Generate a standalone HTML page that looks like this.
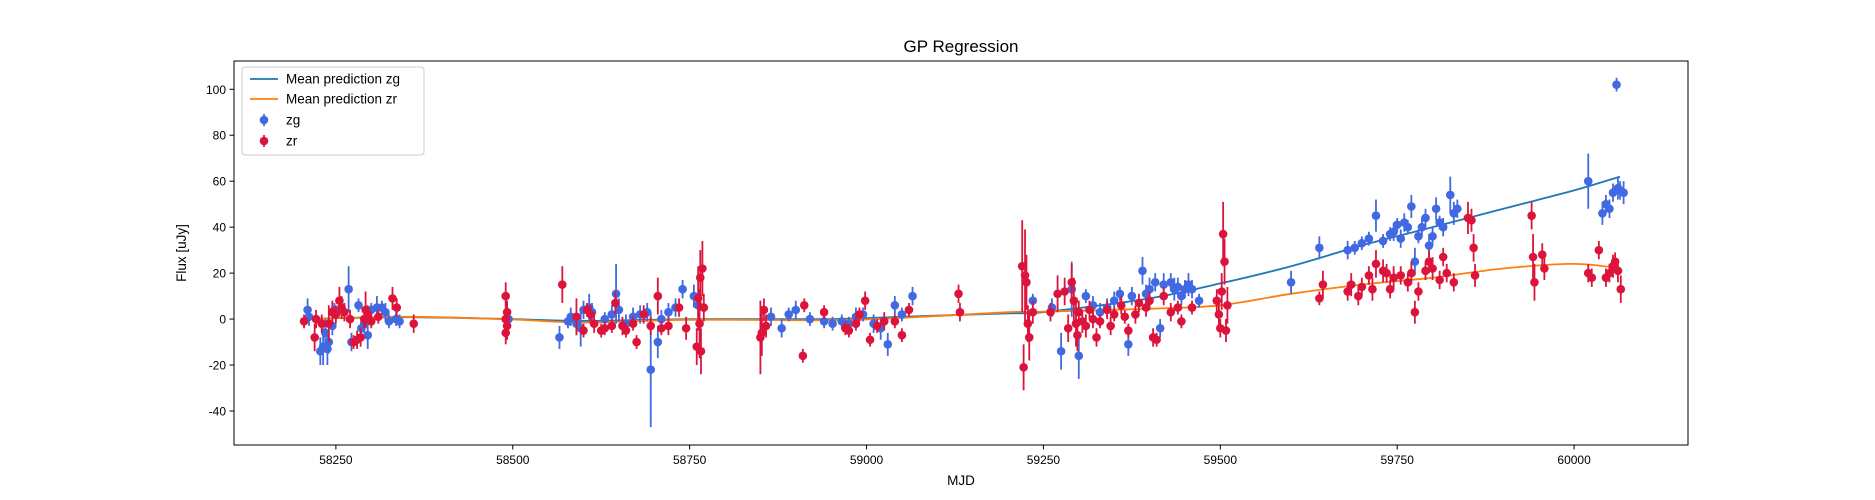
<!DOCTYPE html>
<html><head><meta charset="utf-8"><style>
body{margin:0;background:#fff;}
svg{display:block;font-family:"Liberation Sans","DejaVu Sans",sans-serif;}
</style></head><body>
<svg id="chart" width="1875" height="500" xmlns="http://www.w3.org/2000/svg">
<rect width="1875" height="500" fill="#fff"/>
<g id="plot"></g>
<text x="961" y="52" text-anchor="middle" font-size="17">GP Regression</text>
<text x="961" y="485" text-anchor="middle" font-size="13.5">MJD</text>
<text x="186" y="253" text-anchor="middle" font-size="13.5" transform="rotate(-90 186 253)">Flux [uJy]</text>
</svg>
<script>
const xTicks=[58250,58500,58750,59000,59250,59500,59750,60000];
const yTicks=[-40,-20,0,20,40,60,80,100];
const zgMjd=[58210,58212,58228,58232,58235,58240,58238,58245,58248,58268,58272,58282,58286,58290,58295,58300,58308,58315,58320,58325,58335,58340,58494,58566,58578,58582,58590,58596,58600,58608,58612,58630,58640,58646,58650,58660,58670,58680,58690,58695,58705,58710,58720,58730,58740,58756,58762,58865,58880,58890,58900,58920,58940,58952,58965,58975,58985,58995,59010,59020,59030,59040,59050,59065,59235,59262,59275,59290,59300,59310,59320,59330,59340,59350,59358,59370,59375,59390,59395,59400,59408,59415,59420,59430,59435,59440,59445,59450,59455,59460,59470,59600,59640,59680,59690,59700,59710,59720,59730,59740,59745,59750,59755,59760,59765,59770,59775,59780,59785,59790,59795,59800,59805,59810,59815,59825,59830,59835,60020,60040,60045,60050,60055,60060,60062,60065,60070];
const zgFlux=[4,1,-14,-12,-6,-10,-13,-3,4,13,-10,6,-4,-2,-7,4,5,5,3,-1,0,-1,0,-8,-1,1,-2,-4,4,5,3,0,2,11,4,-2,1,2,3,-22,-10,0,3,5,13,10,6,1,-4,2,4,0,-1,-2,-1,-2,1,2,-2,-4,-11,6,2,10,8,5,-14,13,-16,10,6,3,5,8,11,-11,10,21,11,13,16,-4,15,16,13,14,10,13,15,13,8,16,31,30,31,33,35,45,34,37,38,41,35,42,40,49,25,36,40,44,32,36,48,42,40,54,46,48,60,46,50,48,55,102,57,56,55];
const zgErr=[5,4,6,8,6,5,7,4,3,10,4,3,4,4,6,3,5,3,4,3,3,3,3,5,3,4,5,8,4,6,4,3,4,13,5,4,4,4,4,25,7,4,4,4,4,5,5,4,4,3,4,3,3,3,3,3,4,3,4,5,5,4,3,4,3,4,8,12,10,3,4,4,4,4,3,5,4,6,4,5,4,4,5,4,5,4,4,4,5,4,3,5,5,4,3,3,3,7,3,3,4,3,4,4,3,5,6,3,4,4,5,4,5,3,4,8,5,4,12,5,4,4,4,3,5,4,5];
const zrMjd=[58205,58220,58222,58230,58240,58245,58250,58255,58258,58262,58270,58275,58280,58285,58290,58292,58295,58300,58310,58330,58336,58360,58490,58492,58490,58492,58490,58570,58590,58600,58605,58610,58615,58625,58630,58640,58645,58655,58660,58670,58675,58685,58695,58705,58710,58720,58735,58745,58760,58762,58765,58768,58764,58766,58770,58850,58852,58855,58858,58910,58912,58940,58970,58975,58985,58990,58998,59005,59015,59025,59040,59050,59060,59130,59132,59220,59222,59224,59226,59228,59230,59235,59260,59270,59280,59285,59290,59293,59296,59298,59300,59305,59310,59315,59320,59325,59330,59340,59345,59350,59360,59365,59370,59380,59385,59395,59400,59405,59410,59420,59430,59440,59445,59460,59495,59498,59500,59502,59504,59506,59508,59510,59640,59645,59680,59685,59695,59700,59710,59715,59720,59730,59735,59740,59745,59755,59765,59770,59775,59780,59790,59795,59800,59810,59815,59820,59830,59850,59855,59858,59860,59940,59942,59944,59955,59958,60020,60025,60035,60045,60050,60055,60058,60062,60066];
const zrFlux=[-1,-8,0,-2,-2,3,2,8,5,3,0,-10,-9,-8,0,4,2,-1,1,9,5,-2,10,3,0,-3,-6,15,1,-5,4,2,-2,-5,-4,-3,7,-3,-5,-2,-10,2,-3,10,-4,-3,5,-4,-12,9,18,22,-2,-14,5,-8,-6,4,-3,-16,6,3,-4,-5,-2,2,8,-9,-3,-1,-1,-7,4,11,3,23,-21,19,16,-2,-8,3,3,11,12,-4,16,8,-2,-7,3,-1,-3,4,0,-8,-1,4,-3,2,6,1,-5,2,7,5,8,-8,-9,10,3,5,-1,5,8,2,-4,12,37,25,-5,6,9,15,12,15,10,14,19,13,24,21,20,13,18,19,16,20,3,12,21,25,22,17,27,20,16,44,43,31,19,45,27,16,28,22,20,18,30,18,20,23,25,21,13];
const zrErr=[3,6,4,4,8,5,4,6,5,4,4,3,4,4,4,8,4,3,3,5,4,4,6,5,4,6,5,8,8,3,3,4,4,3,3,3,5,4,3,3,3,4,4,8,3,4,4,5,8,14,12,12,15,10,6,16,10,5,5,3,3,3,3,3,3,3,4,3,3,4,3,3,3,4,4,20,10,20,12,8,10,5,4,8,6,6,8,10,10,7,5,5,5,4,4,4,3,4,4,3,4,3,3,4,4,4,4,4,3,4,4,3,3,3,5,5,4,8,14,10,5,8,3,6,4,5,4,4,4,5,6,5,4,4,5,4,4,5,5,4,4,5,5,4,4,4,4,7,5,6,5,6,10,8,5,5,4,4,4,4,4,5,4,5,6];
const predMjd=[58200,58350,58500,58600,58750,58950,59050,59200,59250,59400,59500,59600,59700,59800,59900,60000,60065];
const predZg=[0,0.8,0,-0.8,0,0,1,2.5,3,9,15.5,23,32,40,48,56,62];
const predZr=[0,1,-0.2,-1.5,-0.3,-0.5,0.5,3,3.2,4.5,6,11,15,18,22,24,22];

const L=234,R=1688,T=61,B=445;
const xMin=58106,xMax=60161,yMin=-54.8,yMax=112.3;
const X=v=>L+(v-xMin)/(xMax-xMin)*(R-L);
const Y=v=>B-(v-yMin)/(yMax-yMin)*(B-T);
const NS="http://www.w3.org/2000/svg";
const svg=document.getElementById('chart');
const plot=document.getElementById('plot');
function mk(tag,attrs,parent){const e=document.createElementNS(NS,tag);for(const k in attrs)e.setAttribute(k,attrs[k]);(parent||svg).appendChild(e);return e;}

const defs=mk('defs',{});
const cp=mk('clipPath',{id:'clip'},defs);
mk('rect',{x:L,y:T,width:R-L,height:B-T},cp);
plot.setAttribute('clip-path','url(#clip)');

function series(mj,fl,er,color,name){
  const g=mk('g',{},plot);
  
  
  for(let i=0;i<mj.length;i++){
    const x=X(mj[i]);
    const eb=mk('line',{x1:x,x2:x,y1:Y(fl[i]-er[i]),y2:Y(fl[i]+er[i]),stroke:color,'stroke-width':1.8},g);
    
    
    const c=mk('circle',{cx:x,cy:Y(fl[i]),r:4.3,fill:color},g);
    
    
  }
}
function line(vals,color,name){
  const pts=predMjd.map((m,i)=>[X(m),Y(vals[i])]);
  let d='M'+pts[0][0].toFixed(1)+' '+pts[0][1].toFixed(1);
  for(let i=0;i<pts.length-1;i++){
    const p0=pts[Math.max(0,i-1)],p1=pts[i],p2=pts[i+1],p3=pts[Math.min(pts.length-1,i+2)];
    const c1=[p1[0]+(p2[0]-p0[0])/6,p1[1]+(p2[1]-p0[1])/6];
    const c2=[p2[0]-(p3[0]-p1[0])/6,p2[1]-(p3[1]-p1[1])/6];
    d+='C'+c1.map(v=>v.toFixed(1)).join(' ')+' '+c2.map(v=>v.toFixed(1)).join(' ')+' '+p2.map(v=>v.toFixed(1)).join(' ');
  }
  const p=mk('path',{d:d,fill:'none',stroke:color,'stroke-width':1.8},plot);
  
  
}
line(predZg,'#1f77b4','mean-prediction-zg-line');
line(predZr,'#ff7f0e','mean-prediction-zr-line');
series(zgMjd,zgFlux,zgErr,'#4169e1','zg');
series(zrMjd,zrFlux,zrErr,'#dc143c','zr');

const fr=mk('rect',{x:L,y:T,width:R-L,height:B-T,fill:'none',stroke:'#000','stroke-width':1});


for(const t of xTicks){
  const x=X(t);
  mk('line',{x1:x,x2:x,y1:B,y2:B+4.5,stroke:'#000'});
  const tx=mk('text',{x:x,y:B+19,'text-anchor':'middle','font-size':12},svg);
  tx.textContent=t;
  
  
}
for(const t of yTicks){
  const y=Y(t);
  mk('line',{x1:L-4.5,x2:L,y1:y,y2:y,stroke:'#000'});
  const tx=mk('text',{x:L-8,y:y+4.5,'text-anchor':'end','font-size':12},svg);
  tx.textContent=t;
  
  
}
const lg=mk('g',{});


lg.innerHTML='<rect x="242" y="67" width="182" height="88" rx="3" fill="#fff" fill-opacity="0.85" stroke="#ccc"/>'+
'<line x1="250" x2="278" y1="79" y2="79" stroke="#1f77b4" stroke-width="1.8"/>'+
'<text x="286" y="83.5" font-size="13.5">Mean prediction zg</text>'+
'<line x1="250" x2="278" y1="99" y2="99" stroke="#ff7f0e" stroke-width="1.8"/>'+
'<text x="286" y="103.5" font-size="13.5">Mean prediction zr</text>'+
'<line x1="264" x2="264" y1="114" y2="126" stroke="#4169e1" stroke-width="1.8"/><circle cx="264" cy="120" r="4.3" fill="#4169e1"/>'+
'<text x="286" y="124.5" font-size="13.5">zg</text>'+
'<line x1="264" x2="264" y1="135" y2="147" stroke="#dc143c" stroke-width="1.8"/><circle cx="264" cy="141" r="4.3" fill="#dc143c"/>'+
'<text x="286" y="145.5" font-size="13.5">zr</text>';
</script>
</body></html>
